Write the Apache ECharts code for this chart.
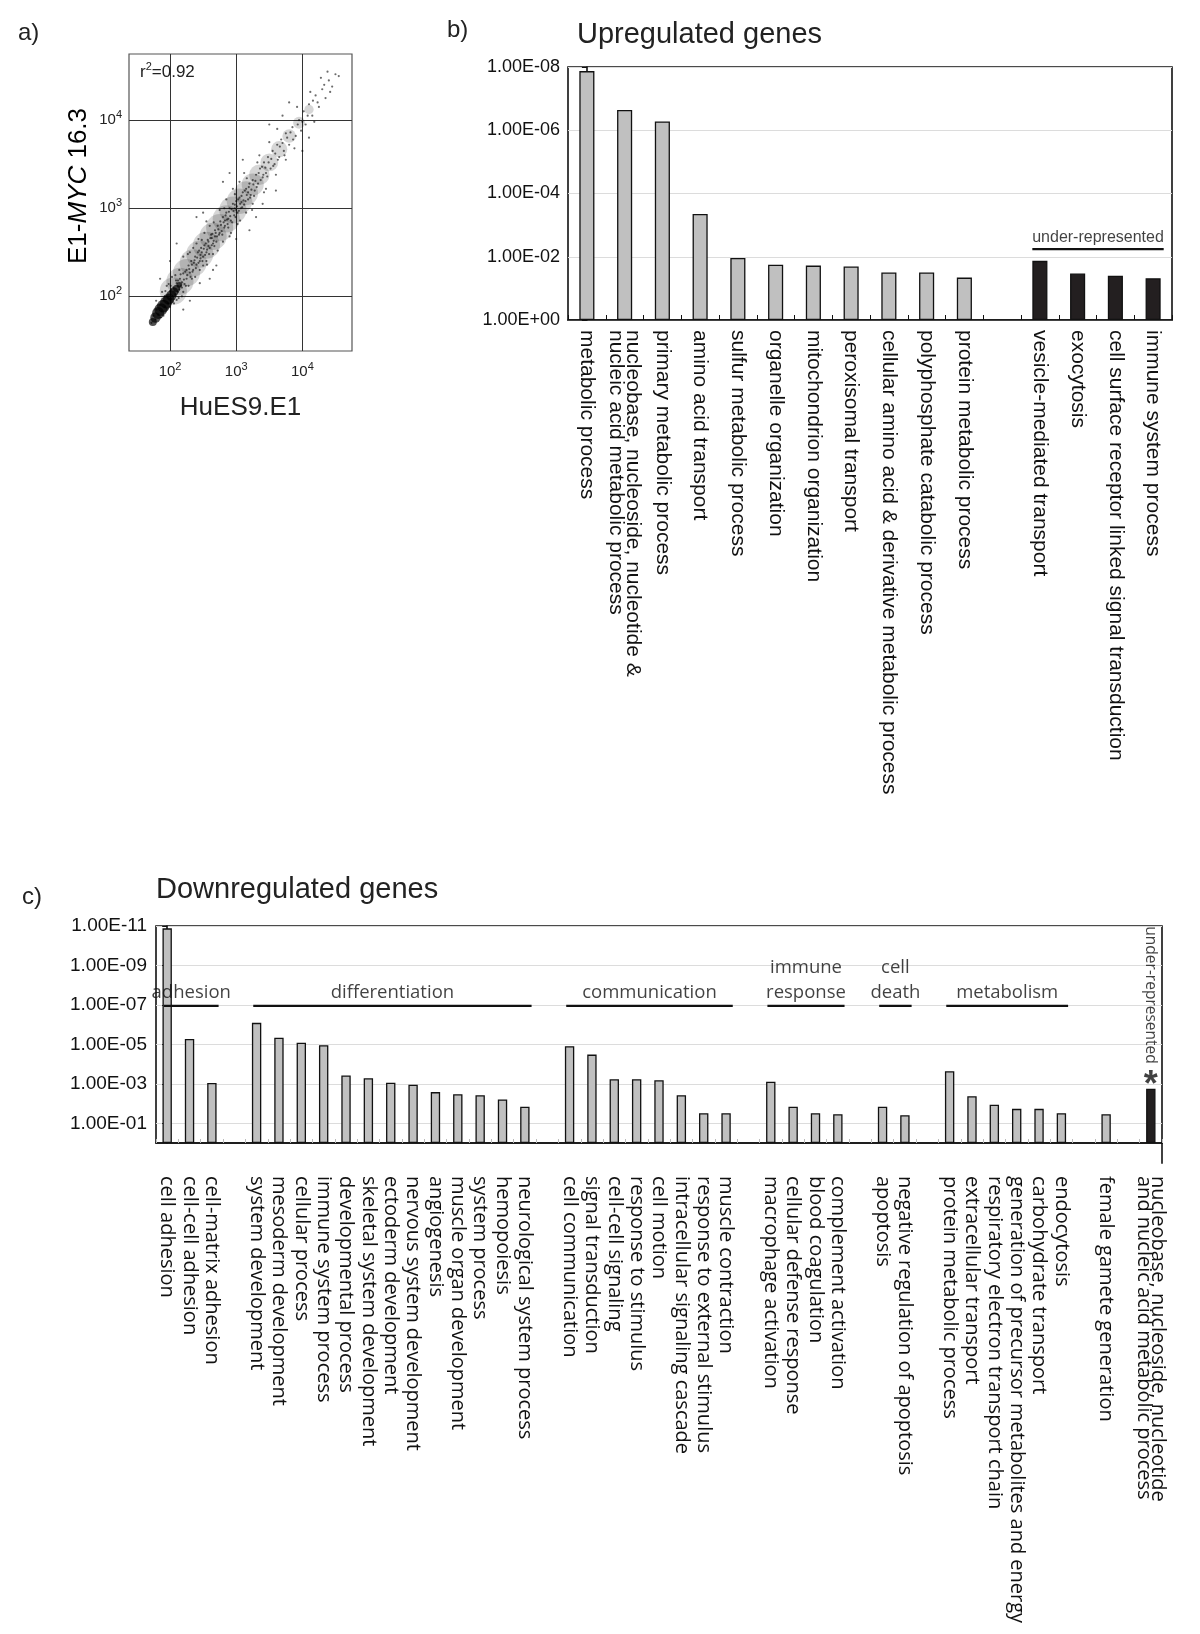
<!DOCTYPE html>
<html><head><meta charset="utf-8">
<script src="https://cdn.jsdelivr.net/npm/echarts@6/dist/echarts.min.js"></script>
<style>html,body{margin:0;padding:0;background:#fff}#c{width:1200px;height:1634px}</style>
</head><body><div id="c"></div>
<script>
// ---------- Panel a: expression scatter, values in log10 units ----------
const scatterPoints = [
[1.72,1.70],[1.75,1.78],[1.78,1.74],[1.80,1.85],[1.82,1.79],[1.85,1.90],[1.87,1.83],[1.90,1.95],[1.92,1.88],[1.95,2.00],
[1.97,1.92],[2.00,2.06],[2.02,1.97],[2.05,2.10],[2.08,2.02],[2.10,2.15],[2.12,2.05],[2.15,2.20],[2.18,2.10],[2.20,2.26],
[1.79,1.95],[1.88,2.05],[1.95,2.12],[2.03,2.22],[1.90,1.78],[2.00,1.88],[2.10,1.96],[2.20,2.05],[2.25,2.30],[2.22,2.14],
[2.25,2.20],[2.28,2.35],[2.30,2.27],[2.32,2.40],[2.35,2.30],[2.38,2.45],[2.40,2.36],[2.42,2.50],[2.45,2.40],[2.47,2.55],
[2.50,2.45],[2.52,2.58],[2.55,2.50],[2.57,2.64],[2.60,2.55],[2.62,2.70],[2.65,2.60],[2.68,2.75],[2.70,2.62],[2.27,2.48],
[2.35,2.55],[2.43,2.65],[2.52,2.72],[2.60,2.80],[2.33,2.20],[2.45,2.30],[2.55,2.40],[2.65,2.48],[2.40,2.60],[2.50,2.35],
[2.58,2.62],[2.36,2.38],[2.46,2.47],[2.63,2.66],[2.68,2.68],
[2.72,2.80],[2.74,2.70],[2.76,2.85],[2.78,2.74],[2.80,2.90],[2.82,2.78],[2.85,2.95],[2.87,2.82],[2.90,3.00],[2.92,2.86],
[2.95,3.05],[2.97,2.92],[3.00,3.08],[3.02,2.95],[3.05,3.12],[3.07,3.00],[3.10,3.18],[3.12,3.04],[3.15,3.22],[3.18,3.10],
[3.20,3.28],[3.22,3.15],[3.25,3.32],[3.28,3.20],[2.75,2.98],[2.85,3.10],[2.95,3.22],[3.05,3.30],[3.12,3.40],[2.80,2.62],
[2.92,2.72],[3.02,2.82],[3.15,2.95],[3.25,3.05],[2.88,2.88],[2.98,3.00],[3.08,3.07],[3.18,3.18],[2.83,2.86],[3.00,2.98],
[3.30,3.38],[3.33,3.28],[3.36,3.45],[3.40,3.35],[3.42,3.52],[3.45,3.40],[3.48,3.58],[3.52,3.45],[3.55,3.65],[3.58,3.50],
[3.62,3.72],[3.65,3.58],[3.68,3.78],[3.72,3.65],[3.75,3.85],[3.80,3.72],[3.85,3.92],[3.90,3.82],[3.95,4.00],[3.35,3.60],
[3.50,3.75],[3.62,3.90],[3.45,3.22],[3.60,3.38],[3.75,3.55],[3.88,3.68],[3.98,3.88],
[4.02,4.10],[4.05,3.95],[4.10,4.18],[4.15,4.05],[4.20,4.28],[4.25,4.15],[4.30,4.35],[4.35,4.25],[4.40,4.45],[4.45,4.38],
[4.50,4.52],[4.55,4.50],[4.12,4.32],[4.28,4.48],[4.18,3.98],[3.92,4.15],[4.38,4.55],
[2.10,2.60],[2.30,1.95],[2.60,2.20],[2.80,3.30],[3.20,2.75],[3.40,3.05],[3.70,4.05],[3.10,3.55],[2.50,2.95],[2.20,1.85],
[3.50,3.95],[4.00,3.65],[2.40,2.90],[3.00,2.65],[2.00,2.40],[1.85,2.20],[2.70,2.35],[3.60,3.20],
[2.12,2.18],[2.14,2.08],[2.16,2.25],[2.18,2.16],[2.21,2.19],[2.23,2.28],[2.24,2.12],[2.26,2.24],[2.29,2.31],[2.31,2.22],
[2.33,2.36],[2.34,2.28],[2.37,2.41],[2.39,2.32],[2.41,2.44],[2.43,2.38],[2.44,2.52],[2.46,2.43],[2.48,2.50],[2.49,2.40],
[2.51,2.54],[2.53,2.47],[2.54,2.60],[2.56,2.53],[2.58,2.57],[2.59,2.48],[2.61,2.66],[2.63,2.58],[2.64,2.71],[2.66,2.63],
[2.67,2.57],[2.69,2.72],[2.71,2.68],[2.73,2.76],[2.75,2.72],[2.77,2.81],[2.79,2.70],[2.81,2.84],[2.83,2.80],[2.84,2.92],
[2.86,2.87],[2.88,2.78],[2.89,2.96],[2.91,2.91],[2.93,2.99],[2.94,2.84],[2.96,2.97],[2.98,3.04],[2.99,2.90],[3.01,3.02],
[3.03,3.10],[3.04,2.97],[3.06,3.05],[3.08,3.14],[3.09,3.01],[3.11,3.09],[3.13,3.20],[3.14,3.08],[3.16,3.15],[3.19,3.24],
[3.21,3.12],[3.23,3.21],[3.26,3.27],[3.27,3.14],[3.29,3.31],[3.31,3.24],[3.34,3.40],[3.37,3.32],[3.39,3.47],[3.41,3.38],
[3.44,3.46],[3.47,3.36],[3.49,3.52],[3.53,3.56],[3.56,3.48],[3.59,3.62],[3.63,3.55],[3.66,3.70],[3.70,3.74],[3.73,3.60],
[3.77,3.80],[3.82,3.86],[3.86,3.78],[3.93,3.95],[4.00,3.98],[4.08,4.05],[4.16,4.22],[4.23,4.20],[4.33,4.40],[4.42,4.32],
[2.30,2.50],[2.38,2.22],[2.48,2.64],[2.56,2.36],[2.66,2.84],[2.72,2.52],[2.82,3.00],[2.90,2.68],[2.98,3.16],[3.06,2.86],
[3.16,3.34],[3.24,2.98],[3.32,3.52],[3.42,3.18],[1.98,2.14],[2.06,1.92],[2.14,2.30],[2.08,2.24],[2.18,2.00],[2.28,2.12],
[1.93,2.06],[2.01,2.12],[2.09,2.18],[2.16,2.12],[2.13,1.98],[2.04,1.94],[1.96,1.86],[1.86,1.76],[1.92,2.00],[2.02,2.08],
[2.90,3.40],[3.30,2.90],[2.55,2.85],[2.65,2.30],[3.80,4.20],[4.10,3.80],[2.20,2.45],[2.45,2.15]
];
// dense core of the cloud: [log x, log y, relative density]
const densityCore = [
[1.74,1.71,1.0],[1.78,1.76,1.3],[1.82,1.81,1.5],[1.86,1.85,1.6],[1.90,1.89,1.6],
[1.94,1.93,1.5],[1.98,1.97,1.4],[2.02,2.01,1.3],[2.06,2.05,1.1],[2.10,2.09,0.9],[2.14,2.13,0.7]
];
// body of the cloud: [log x, log y, relative density]
const densityBand = [
[2.05,2.06,3.2],[2.15,2.17,3.2],[2.25,2.27,3.2],[2.35,2.38,3.2],[2.45,2.48,3.2],[2.55,2.58,3.2],[2.65,2.68,3.2],
[2.75,2.78,3.2],[2.85,2.88,3.2],[2.95,2.98,3.2],[3.05,3.08,3],[3.15,3.17,2.8],[3.25,3.27,2.6],[3.35,3.38,2.4],
[3.50,3.52,2.1],[3.65,3.67,1.9],[3.80,3.82,1.6],[3.95,3.97,1.4],[4.10,4.12,1.1]
];
const logTicksA = [2, 3, 4];

// ---------- Panel b: upregulated genes (-log10 p) ----------
const categoriesB = [
'metabolic process',
'nucleobase, nucleoside, nucleotide &\nnucleic acid metabolic process',
'primary metabolic process',
'amino acid transport',
'sulfur metabolic process',
'organelle organization',
'mitochondrion organization',
'peroxisomal transport',
'cellular amino acid & derivative metabolic process',
'polyphosphate catabolic process',
'protein metabolic process',
'',
'vesicle-mediated transport',
'exocytosis',
'cell surface receptor linked signal transduction',
'immune system process'
];
const valuesB = [7.87, 6.64, 6.28, 3.35, 1.96, 1.75, 1.72, 1.69, 1.50, 1.50, 1.34, null, 1.87, 1.47, 1.40, 1.32];
const kindB = ['over','over','over','over','over','over','over','over','over','over','over','','under','under','under','under'];
const groupsB = [{name: 'under-represented', first: 12, last: 15}];

// ---------- Panel c: downregulated genes (-log10 p) ----------
const categoriesC = [
'cell adhesion','cell-cell adhesion','cell-matrix adhesion','',
'system development','mesoderm development','cellular process','immune system process','developmental process',
'skeletal system development','ectoderm development','nervous system development','angiogenesis',
'muscle organ development','system process','hemopoiesis','neurological system process','',
'cell communication','signal transduction','cell-cell signaling','response to stimulus','cell motion',
'intracellular signaling cascade','response to external stimulus','muscle contraction','',
'macrophage activation','cellular defense response','blood coagulation','complement activation','',
'apoptosis','negative regulation of apoptosis','',
'protein metabolic process','extracellular transport','respiratory electron transport chain',
'generation of precursor metabolites and energy','carbohydrate transport','endocytosis','',
'female gamete generation','',
'nucleobase, nucleoside, nucleotide\nand nucleic acid metabolic process'
];
const valuesC = [10.88, 5.27, 3.04, null,
6.09, 5.34, 5.08, 4.96, 3.42, 3.28, 3.06, 2.95, 2.58, 2.47, 2.42, 2.21, 1.84, null,
4.91, 4.48, 3.23, 3.23, 3.18, 2.42, 1.51, 1.51, null,
3.11, 1.84, 1.51, 1.46, null,
1.84, 1.41, null,
3.64, 2.37, 1.94, 1.73, 1.73, 1.51, null,
1.46, null,
2.75];
const underC = [44];
const groupsC = [
{name: 'adhesion', first: 0, last: 2},
{name: 'differentiation', first: 4, last: 16},
{name: 'communication', first: 18, last: 25},
{name: 'immune\nresponse', first: 27, last: 30},
{name: 'cell\ndeath', first: 32, last: 33},
{name: 'metabolism', first: 35, last: 40}
];
const ticksC = [1, 3, 5, 7, 9, 11];

// ---------- styles / build ----------
const SANS = "'Liberation Sans', Arial, sans-serif";
const MYR = "'Open Sans', 'Noto Sans', sans-serif";
const GRAY = '#c0c0c0', DARK = '#231f20';
const pLabel = v => v === 0 ? '1.00E+00' : '1.00E-' + String(v).padStart(2, '0');

const chart = echarts.init(document.getElementById('c'), null, {renderer: 'canvas'});

const sup = {
  b: {fontSize: 15, lineHeight: 21, fontFamily: SANS, color: '#222'},
  s: {fontSize: 11, lineHeight: 12, verticalAlign: 'top', fontFamily: SANS, color: '#222'}
};

const barItem = (vals, kinds, want) => vals.map((v, i) => (v != null && kinds(i) === want) ? v : '-');

const series = [
  // panel a
  {type: 'scatter', xAxisIndex: 0, yAxisIndex: 0, data: densityBand, symbolSize: d => d[2] * 8.5,
   itemStyle: {color: 'rgba(0,0,0,0.2)'}, silent: true},
  {type: 'scatter', xAxisIndex: 0, yAxisIndex: 0, data: scatterPoints, symbolSize: 2.2,
   itemStyle: {color: 'rgba(0,0,0,0.72)'}, silent: true},
  {type: 'scatter', xAxisIndex: 0, yAxisIndex: 0, data: densityCore, symbolSize: d => d[2] * 8,
   itemStyle: {color: 'rgba(0,0,0,0.85)'}, silent: true},
  // panel b
  {type: 'bar', xAxisIndex: 1, yAxisIndex: 1, barWidth: '40%', barGap: '-100%',
   data: barItem(valuesB, i => kindB[i], 'over'),
   itemStyle: {color: GRAY, borderColor: '#111', borderWidth: 1.3}},
  {type: 'bar', xAxisIndex: 1, yAxisIndex: 1, barWidth: '40%', barGap: '-100%',
   data: barItem(valuesB, i => kindB[i], 'under'),
   itemStyle: {color: DARK, borderColor: '#111', borderWidth: 1.3}},
  // panel c
  {type: 'bar', xAxisIndex: 3, yAxisIndex: 2, barWidth: '42%', barGap: '-100%',
   data: barItem(valuesC, i => underC.includes(i) ? 'under' : 'over', 'over'),
   itemStyle: {color: GRAY, borderColor: '#111', borderWidth: 1.3}},
  {type: 'bar', xAxisIndex: 3, yAxisIndex: 2, barWidth: '42%', barGap: '-100%',
   data: barItem(valuesC, i => underC.includes(i) ? 'under' : 'over', 'under'),
   itemStyle: {color: DARK, borderColor: '#111', borderWidth: 1.3}},
  // right frame of panel c runs a little below the axis
  {type: 'line', xAxisIndex: 4, yAxisIndex: 2, data: [[categoriesC.length - 0.5, 0], [categoriesC.length - 0.5, -1.05]],
   symbol: 'none', clip: false, lineStyle: {color: '#111', width: 1.6}, silent: true}
];

// group annotation lines + labels
function groupAnn(groups, xIdx, yIdx, yLine, left, right, font, size, lh, dist) {
  groups.forEach(g => {
    const a = g.first - left, b = g.last + right;
    series.push({type: 'line', xAxisIndex: xIdx, yAxisIndex: yIdx, data: [[a, yLine], [b, yLine]],
      symbol: 'none', lineStyle: {color: '#111', width: 2.2}, silent: true, z: 5});
    series.push({type: 'scatter', xAxisIndex: xIdx, yAxisIndex: yIdx, data: [[(a + b) / 2, yLine, g.name]],
      symbolSize: 0, silent: true, z: 6,
      label: {show: true, position: 'top', distance: dist, formatter: p => p.data[2],
        fontFamily: font, fontSize: size, lineHeight: lh, color: '#111', align: 'center'}});
  });
}
groupAnn(groupsB, 2, 1, 2.24, 0.2, 0.28, SANS, 16, 18, 3);
groupAnn(groupsC, 4, 2, 6.95, 0.15, 0.3, MYR, 18.5, 25, 1);

// vertical under-represented tag + asterisk in panel c
series.push({type: 'scatter', xAxisIndex: 4, yAxisIndex: 2, symbolSize: 0, silent: true, z: 6,
  data: underC.map(i => [i, 7.5, 'under-represented']),
  label: {show: true, position: 'inside', rotate: -90, formatter: p => p.data[2],
    fontFamily: MYR, fontSize: 15.5, color: '#111'}});
series.push({type: 'scatter', xAxisIndex: 4, yAxisIndex: 2, symbolSize: 0, silent: true, z: 6,
  data: underC.map(i => [i, 3.35, '*']),
  label: {show: true, position: 'inside', formatter: p => p.data[2],
    fontFamily: SANS, fontSize: 36, fontWeight: 'bold', color: '#111', offset: [0, 9]}});

const option = {
  animation: false,
  backgroundColor: '#fff',
  grid: [
    {left: 129, top: 54, width: 223, height: 297, show: true, borderColor: '#555', borderWidth: 1.2, backgroundColor: '#fff'},
    {left: 568, top: 67, width: 604, height: 253, show: true, borderColor: '#111', borderWidth: 1.6},
    {left: 156, top: 926, width: 1006, height: 217, show: true, borderColor: '#111', borderWidth: 1.6}
  ],
  xAxis: [
    {type: 'value', gridIndex: 0, min: 1.38, max: 4.75,
     name: 'HuES9.E1', nameLocation: 'middle', nameGap: 44,
     nameTextStyle: {fontFamily: SANS, fontSize: 26, color: '#222'},
     axisLine: {show: false}, axisTick: {show: false, customValues: logTicksA},
     axisLabel: {customValues: logTicksA, margin: 10, formatter: v => '{b|10}{s|' + v + '}', rich: sup},
     splitLine: {show: true, lineStyle: {color: '#333', width: 1}}},
    {type: 'category', gridIndex: 1, data: categoriesB,
     axisLine: {lineStyle: {color: '#111', width: 1.6}},
     axisTick: {show: true, inside: true, length: 5, lineStyle: {color: '#111'}},
     axisLabel: {interval: 0, rotate: -90, margin: 10, fontFamily: SANS, fontSize: 21, lineHeight: 17, color: '#111'}},
    {type: 'value', gridIndex: 1, min: -0.5, max: categoriesB.length - 0.5, show: false},
    {type: 'category', gridIndex: 2, data: categoriesC,
     axisLine: {lineStyle: {color: '#111', width: 1.6}},
     axisTick: {show: true, inside: true, length: 4, lineStyle: {color: '#bbb'}},
     axisLabel: {interval: 0, rotate: -90, margin: 33, fontFamily: MYR, fontSize: 20, lineHeight: 14, color: '#111'}},
    {type: 'value', gridIndex: 2, min: -0.5, max: categoriesC.length - 0.5, show: false}
  ],
  yAxis: [
    {type: 'value', gridIndex: 0, min: 1.38, max: 4.75,
     axisLine: {show: false}, axisTick: {show: false, customValues: logTicksA},
     axisLabel: {customValues: logTicksA, margin: 7, formatter: v => '{b|10}{s|' + v + '}', rich: sup},
     splitLine: {show: true, lineStyle: {color: '#333', width: 1}}},
    {type: 'value', gridIndex: 1, min: 0, max: 8, interval: 2,
     axisLine: {show: true, lineStyle: {color: '#111', width: 1.6}},
     axisTick: {show: true, length: 5, lineStyle: {color: '#111'}},
     axisLabel: {formatter: pLabel, fontFamily: SANS, fontSize: 18, color: '#111', margin: 8},
     splitLine: {show: true, lineStyle: {color: '#dcdcdc', width: 1}}},
    {type: 'value', gridIndex: 2, min: 0, max: 11,
     axisLine: {show: true, lineStyle: {color: '#111', width: 1.6}},
     axisTick: {show: true, length: 5, customValues: ticksC, lineStyle: {color: '#111'}},
     axisLabel: {customValues: ticksC, formatter: pLabel, fontFamily: SANS, fontSize: 19, color: '#111', margin: 9},
     splitLine: {show: true, lineStyle: {color: '#dcdcdc', width: 1}}}
  ],
  graphic: [
    {type: 'text', left: 18, top: 21, style: {text: 'a)', font: '24px ' + SANS, fill: '#222'}},
    {type: 'text', left: 447, top: 18, style: {text: 'b)', font: '24px ' + SANS, fill: '#222'}},
    {type: 'text', left: 22, top: 885, style: {text: 'c)', font: '24px ' + SANS, fill: '#222'}},
    {type: 'text', left: 577, top: 20, style: {text: 'Upregulated genes', font: '29px ' + SANS, fill: '#222'}},
    {type: 'text', left: 156, top: 875, style: {text: 'Downregulated genes', font: '29px ' + SANS, fill: '#222'}},
    {type: 'text', x: 79, y: 186, rotation: Math.PI / 2, z: 100,
     style: {text: '{n|E1-}{i|MYC}{n| 16.3}', align: 'center', verticalAlign: 'middle',
       rich: {n: {fontFamily: SANS, fontSize: 26, color: '#222'},
              i: {fontFamily: SANS, fontSize: 26, fontStyle: 'italic', color: '#222'}}}},
    {type: 'text', left: 140, top: 61, z: 100, style: {text: '{a|r}{s|2}{a|=0.92}', fill: '#222',
      rich: {a: {fontFamily: SANS, fontSize: 17, lineHeight: 22, color: '#222'},
             s: {fontFamily: SANS, fontSize: 11, lineHeight: 12, verticalAlign: 'top', color: '#222'}}}}
  ],
  series: series
};
chart.setOption(option);
</script>
</body></html>
